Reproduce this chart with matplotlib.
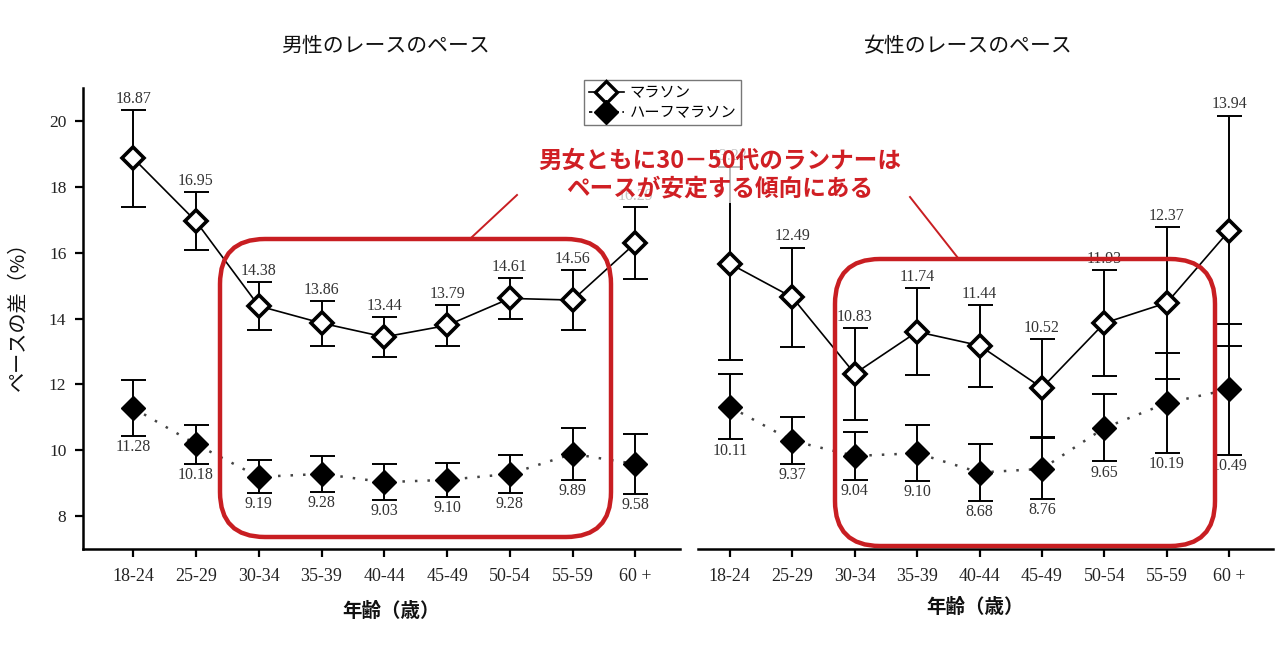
import matplotlib
matplotlib.use("Agg")
import matplotlib.pyplot as plt
from matplotlib.lines import Line2D
from matplotlib.patches import FancyBboxPatch
from matplotlib.transforms import IdentityTransform

# ---------------- data ----------------
age_groups = ["18-24", "25-29", "30-34", "35-39", "40-44", "45-49", "50-54", "55-59", "60 +"]

male_marathon = [18.87, 16.95, 14.38, 13.86, 13.44, 13.79, 14.61, 14.56, 16.29]
male_marathon_err = [1.47, 0.88, 0.72, 0.68, 0.61, 0.61, 0.62, 0.90, 1.10]
male_half = [11.28, 10.18, 9.19, 9.28, 9.03, 9.10, 9.28, 9.89, 9.58]
male_half_err = [0.86, 0.60, 0.50, 0.54, 0.55, 0.52, 0.57, 0.79, 0.92]

female_marathon = [13.22, 12.49, 10.83, 11.74, 11.44, 10.52, 11.93, 12.37, 13.94]
female_marathon_err = [2.10, 1.08, 1.00, 0.95, 0.89, 1.06, 1.15, 1.65, 2.50]
female_half = [10.11, 9.37, 9.04, 9.10, 8.68, 8.76, 9.65, 10.19, 10.49]
female_half_err = [0.71, 0.51, 0.53, 0.61, 0.62, 0.66, 0.73, 1.08, 1.42]

male_yticks = [8, 10, 12, 14, 16, 18, 20]

title_male = "男性のレースのペース"
title_female = "女性のレースのペース"
xlabel_text = "年齢（歳）"
ylabel_text = "ペースの差（%）"
legend_labels = ["マラソン", "ハーフマラソン"]
note_text = "男女ともに30－50代のランナーは\nペースが安定する傾向にある"

# ---------------- style ----------------
JP = ["Noto Sans CJK JP", "DejaVu Sans"]
SERIF = ["Liberation Serif", "DejaVu Serif"]
RED = "#d01f24"
W, H = 1280, 669

fig = plt.figure(figsize=(W / 100, H / 100), dpi=100)
fig.patch.set_facecolor("white")


def px(x, y):
    return x / W, 1 - y / H


def make_axes(x0, x1, y_top, y_bot):
    return fig.add_axes([x0 / W, 1 - y_bot / H, (x1 - x0) / W, (y_bot - y_top) / H])


def draw_panel(ax, mar, mar_err, half, half_err):
    xs = list(range(len(age_groups)))
    ax.errorbar(xs, mar, yerr=mar_err, fmt="none", ecolor="black",
                elinewidth=1.4, capsize=9, capthick=1.4, zorder=2)
    ax.errorbar(xs, half, yerr=half_err, fmt="none", ecolor="black",
                elinewidth=1.4, capsize=9, capthick=1.4, zorder=2)
    ax.plot(xs, mar, "-", color="black", lw=1.2, zorder=3)
    ax.plot(xs, half, ls=(0, (1, 4)), color="#444444", lw=1.8, zorder=3)
    ax.plot(xs, mar, "D", ms=11.5, mfc="white", mec="black", mew=2.6, zorder=4)
    ax.plot(xs, half, "D", ms=12.5, mfc="black", mec="black", mew=1, zorder=4)
    for i, (v, e) in enumerate(zip(mar, mar_err)):
        ax.annotate(f"{v:.2f}", xy=(i, v + e), xytext=(0, 8), textcoords="offset points",
                    ha="center", va="center", fontsize=11.5, family=SERIF, color="#333333")
    for i, (v, e) in enumerate(zip(half, half_err)):
        ax.annotate(f"{v:.2f}", xy=(i, v - e), xytext=(0, -8), textcoords="offset points",
                    ha="center", va="center", fontsize=11.5, family=SERIF, color="#333333")
    ax.set_xticks(xs)
    ax.set_xticklabels(age_groups, family=SERIF, fontsize=13, color="#222222")
    ax.tick_params(axis="x", direction="out", length=6, width=1.6, pad=8)
    ax.spines["top"].set_visible(False)
    ax.spines["right"].set_visible(False)
    ax.spines["bottom"].set_linewidth(1.8)
    ax.set_facecolor("none")


# left panel (men)
axL = make_axes(83, 680, 88, 549)
draw_panel(axL, male_marathon, male_marathon_err, male_half, male_half_err)
axL.set_xlim(-0.80, 8.71)
axL.set_ylim(7.0, 21.0)
axL.set_yticks(male_yticks)
axL.set_yticklabels([str(t) for t in male_yticks], family=SERIF, fontsize=12.5, color="#222222")
axL.tick_params(axis="y", direction="out", length=6, width=1.6, pad=6)
axL.spines["left"].set_linewidth(1.8)

# right panel (women)
axR = make_axes(698, 1273, 88, 549)
draw_panel(axR, female_marathon, female_marathon_err, female_half, female_half_err)
axR.set_xlim(-0.51, 8.70)
axR.set_ylim(7.017, 17.04)
axR.set_yticks([])
axR.spines["left"].set_visible(False)

# titles and axis labels
fig.text(*px(385, 46), title_male, ha="center", va="center", fontsize=15, family=JP, color="#111111")
fig.text(*px(968, 46), title_female, ha="center", va="center", fontsize=15, family=JP, color="#111111")
fig.text(*px(391, 611), xlabel_text, ha="center", va="center", fontsize=14, family=JP,
         fontweight="semibold", color="#111111")
fig.text(*px(975, 607), xlabel_text, ha="center", va="center", fontsize=14, family=JP,
         fontweight="semibold", color="#111111")
fig.text(*px(18, 311), ylabel_text, ha="center", va="center", rotation=90, fontsize=14.5,
         family=JP, color="#111111")

# legend
h1 = Line2D([], [], color="black", lw=1.2, marker="D", ms=11, mfc="white", mec="black", mew=2.4)
h2 = Line2D([], [], color="black", lw=1.2, ls=(0, (2, 2)), marker="D", ms=12, mfc="black", mec="black")
leg = fig.legend([h1, h2], legend_labels, loc="upper left", bbox_to_anchor=px(584, 80),
                 frameon=True, fancybox=False, edgecolor="#777777", framealpha=1,
                 prop={"family": JP, "size": 11}, handlelength=2.3, handletextpad=0.4,
                 borderpad=0.3, labelspacing=0.15, borderaxespad=0)
leg.get_frame().set_linewidth(1.0)

# red highlight boxes and callout
for (x0, y0, x1, y1) in [(220, 239, 611, 537), (835, 259, 1215, 546)]:
    box = FancyBboxPatch((x0, H - y1), x1 - x0, y1 - y0,
                         boxstyle="round,pad=0,rounding_size=45",
                         transform=IdentityTransform(), fill=False,
                         edgecolor="#c81e22", lw=3.2, zorder=10)
    fig.add_artist(box)

for (xa, ya, xb, yb) in [(472, 237, 517, 195), (958, 258, 910, 197)]:
    fig.add_artist(Line2D([xa / W, xb / W], [1 - ya / H, 1 - yb / H], transform=fig.transFigure,
                          color="#c81e22", lw=1.4, zorder=10))

fig.text(*px(720, 175), note_text, ha="center", va="center", fontsize=17, family=JP,
         fontweight="bold", color=RED, linespacing=1.18, zorder=11,
         bbox=dict(boxstyle="square,pad=0.1", facecolor="white", edgecolor="none", alpha=0.72))

fig.savefig("out.png", dpi=100, facecolor="white")
